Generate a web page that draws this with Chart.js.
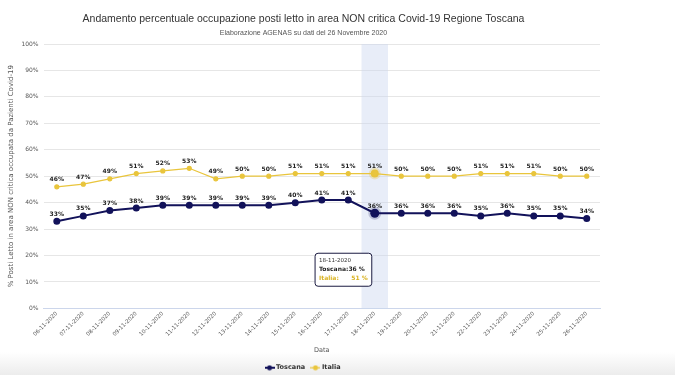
<!DOCTYPE html>
<html>
<head>
<meta charset="utf-8">
<script src="https://cdn.jsdelivr.net/npm/chart.js@4.4.0/dist/chart.umd.min.js"></script>
<style>
  body { margin: 0; background: #fff; }
  #wrap {
    width: 675px; height: 375px; position: relative;
    background: linear-gradient(to bottom, #fff 0px, #fff 352px, #ececec 375px);
  }
  canvas { display: block; }
</style>
</head>
<body>
<div id="wrap"><canvas id="chart" width="612" height="375"></canvas></div>
<script>
const dates = ["06-11-2020","07-11-2020","08-11-2020","09-11-2020","10-11-2020","11-11-2020","12-11-2020",
  "13-11-2020","14-11-2020","15-11-2020","16-11-2020","17-11-2020","18-11-2020","19-11-2020",
  "20-11-2020","21-11-2020","22-11-2020","23-11-2020","24-11-2020","25-11-2020","26-11-2020"]
const toscana = [33,35,37,38,39,39,39,39,39,40,41,41,36,36,36,36,35,36,35,35,34]
const italia = [46,47,49,51,52,53,49,50,50,51,51,51,51,50,50,50,51,51,51,50,50]
const hoverIndex = 12

const navy = "#12125a"
const gold = "#e9c53c"

// little legend icons: line with a dot
function legendIcon(color, w) {
    const c = document.createElement("canvas")
    c.width = 10; c.height = 6
    const g = c.getContext("2d")
    g.strokeStyle = color; g.lineWidth = w
    g.beginPath(); g.moveTo(0, 3); g.lineTo(10, 3); g.stroke()
    g.fillStyle = color
    g.beginPath(); g.arc(5, 3, 2.5, 0, Math.PI * 2); g.fill()
    return c
}

const bandPlugin = {
    id: "band",
    beforeDatasetsDraw(chart) {
        const x = chart.scales.x
        const area = chart.chartArea
        const w = x.getPixelForValue(1) - x.getPixelForValue(0)
        const cx = x.getPixelForValue(hoverIndex)
        const ctx = chart.ctx
        ctx.save()
        ctx.fillStyle = "rgba(204,214,240,0.45)"
        ctx.fillRect(cx - w / 2, area.top, w, area.bottom - area.top)
        ctx.restore()
    }
}

const labelPlugin = {
    id: "pointLabels",
    afterDatasetsDraw(chart) {
        const ctx = chart.ctx
        ctx.save()
        ctx.font = "bold 6px 'DejaVu Sans'"
        ctx.fillStyle = "#222"
        ctx.textAlign = "center"
        ctx.textBaseline = "bottom"
        chart.data.datasets.forEach((ds, i) => {
            chart.getDatasetMeta(i).data.forEach((pt, j) => {
                ctx.fillText(ds.data[j] + "%", pt.x, pt.y - 4)
            })
        })
        ctx.restore()
    }
}

Chart.Tooltip.positioners.below = function (items) {
    if (!items.length) return false
    const p = items[0].element
    return { x: p.x - 6, y: p.y + 40 }
}

const chart = new Chart("chart", {
    type: "line",
    data: {
        labels: dates,
        datasets: [{
            label: "Toscana",
            data: toscana,
            borderColor: navy,
            backgroundColor: navy,
            borderWidth: 2,
            pointRadius: 2.5,
            pointHoverRadius: 4.5,
            pointHoverBorderWidth: 4,
            pointHoverBorderColor: "rgba(18,18,90,0.2)",
            pointHoverBackgroundColor: navy,
            tension: 0
        }, {
            label: "Italia",
            data: italia,
            borderColor: gold,
            backgroundColor: gold,
            borderWidth: 1.2,
            pointRadius: 2,
            pointHoverRadius: 4,
            pointHoverBorderWidth: 4,
            pointHoverBorderColor: "rgba(233,197,60,0.3)",
            pointHoverBackgroundColor: gold,
            tension: 0
        }]
    },
    options: {
        responsive: false,
        animation: false,
        layout: { padding: { left: 7, right: 12, top: 6, bottom: -6 } },
        interaction: { mode: "index", intersect: false },
        plugins: {
            title: {
                display: true,
                text: "Andamento percentuale occupazione posti letto in area NON critica Covid-19 Regione Toscana",
                color: "#333",
                font: { family: "'Liberation Sans'", size: 10.5, weight: "normal" },
                padding: { top: 7, bottom: 3 }
            },
            subtitle: {
                display: true,
                text: "Elaborazione AGENAS su dati del 26 Novembre 2020",
                color: "#555",
                font: { family: "'Liberation Sans'", size: 7 },
                padding: { bottom: 7 }
            },
            legend: {
                position: "bottom",
                labels: {
                    color: "#333",
                    font: { family: "'DejaVu Sans'", size: 6.5, weight: "bold" },
                    usePointStyle: true,
                    boxHeight: 6,
                    padding: 7,
                    generateLabels(chart) {
                        return chart.data.datasets.map((ds, i) => ({
                            text: ds.label,
                            fontColor: "#333",
                            pointStyle: legendIcon(ds.borderColor, ds.borderWidth),
                            datasetIndex: i,
                            hidden: false,
                            lineWidth: 0
                        }))
                    }
                }
            },
            tooltip: {
                position: "below",
                xAlign: "right",
                yAlign: "top",
                caretSize: 0,
                caretPadding: 0,
                backgroundColor: "rgba(255,255,255,0.95)",
                borderColor: "#1a1a40",
                borderWidth: 1,
                cornerRadius: 3,
                padding: 4,
                displayColors: false,
                titleColor: "#333",
                titleFont: { family: "'DejaVu Sans'", size: 5.5, weight: "normal" },
                titleMarginBottom: 2,
                bodyFont: { family: "'DejaVu Sans'", size: 6, weight: "bold" },
                bodySpacing: 2,
                callbacks: {
                    label: (item) => item.dataset.label === "Italia"
                        ? "Italia:      " + item.raw + " %"
                        : "Toscana:" + item.raw + " %",
                    labelTextColor: (item) => item.dataset.label === "Italia" ? "#d9b21f" : "#222"
                }
            }
        },
        scales: {
            x: {
                offset: true,
                grid: { display: false, drawTicks: false },
                border: { color: "#ccd6eb" },
                ticks: {
                    color: "#555",
                    font: { family: "'DejaVu Sans'", size: 5.5 },
                    minRotation: 45,
                    maxRotation: 45,
                    autoSkip: false,
                    padding: 2
                },
                title: {
                    display: true,
                    text: "Data",
                    color: "#555",
                    font: { family: "'DejaVu Sans'", size: 6.5 },
                    padding: { top: 7, bottom: 3 }
                }
            },
            y: {
                min: 0,
                max: 100,
                grid: { color: "#e6e6e6", drawTicks: false },
                border: { display: false },
                ticks: {
                    stepSize: 10,
                    color: "#555",
                    font: { family: "'DejaVu Sans'", size: 6 },
                    padding: 5,
                    callback: (v) => v + "%"
                },
                title: {
                    display: true,
                    text: "% Posti Letto in area NON critica occupata da Pazienti Covid-19",
                    color: "#555",
                    font: { family: "'DejaVu Sans'", size: 7 },
                    padding: { top: 0, bottom: 1 }
                }
            }
        }
    },
    plugins: [bandPlugin, labelPlugin]
})

const active = [
    { datasetIndex: 0, index: hoverIndex },
    { datasetIndex: 1, index: hoverIndex }
]
const el = chart.getDatasetMeta(0).data[hoverIndex]
chart.setActiveElements(active)
chart.tooltip.setActiveElements(active, { x: el.x, y: el.y })
chart.update()
</script>
</body>
</html>
